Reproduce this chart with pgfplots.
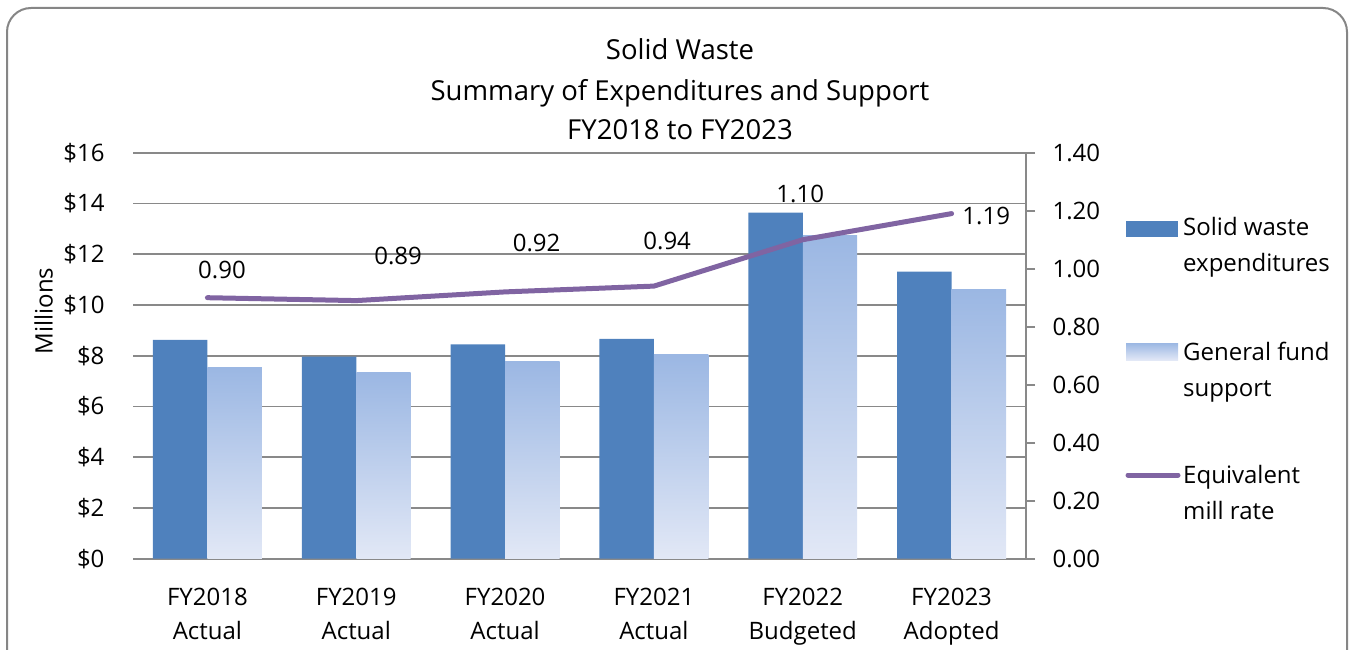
\documentclass[border=0pt]{standalone}
\usepackage{pgfplots}
\pgfplotsset{compat=1.18}
\usepackage{fontspec}
\setmainfont{Open Sans}
\definecolor{expblue}{RGB}{79,129,189}
\definecolor{gentop}{RGB}{155,183,227}
\definecolor{genbot}{RGB}{226,232,246}
\definecolor{millpurple}{RGB}{128,100,162}
\definecolor{gridgray}{RGB}{137,137,137}
\definecolor{bordergray}{RGB}{134,134,134}
\newcommand{\lbl}{\fontsize{24}{34}\selectfont}
\newcommand{\ttl}{\fontsize{27.5}{40}\selectfont}
\begin{document}
\begin{tikzpicture}
\useasboundingbox (0pt,0pt) rectangle (1351pt,649pt);
\draw[bordergray, line width=2pt, rounded corners=24pt] (7pt,-40pt) rectangle (1347pt,641pt);
\pgfplotsset{
  genbar/.style={ybar, bar shift=0.183, draw=none, top color=gentop, bottom color=genbot, forget plot},
}
\begin{axis}[
  at={(133pt,90.3pt)}, anchor=south west, scale only axis, width=893pt, height=406pt,
  xmin=-0.5, xmax=5.5, ymin=0, ymax=16,
  ybar, bar width=0.366,
  ytick={0,2,4,6,8,10,12,14,16},
  yticklabels={\$0,\$2,\$4,\$6,\$8,\$10,\$12,\$14,\$16},
  xtick={0,1,2,3,4,5},
  xticklabels={{FY2018\\Actual},{FY2019\\Actual},{FY2020\\Actual},{FY2021\\Actual},{FY2022\\Budgeted},{FY2023\\Adopted}},
  tick label style={font=\lbl},
  xticklabel style={align=center, yshift=-25.6pt},
  yticklabel style={xshift=-25pt},
  ymajorgrids, grid style={gridgray, line width=1.6pt},
  axis x line*=bottom, axis y line*=left,
  x axis line style={gridgray, line width=2.2pt, -},
  y axis line style={draw=none},
  major tick length=0pt,
  clip=false,
]
\addplot[ybar, bar shift=-0.183, fill=expblue, draw=none] coordinates {(0,8.62) (1,7.96) (2,8.45) (3,8.66) (4,13.64) (5,11.31)};
\addplot[genbar] coordinates {(0,7.55)};
\addplot[genbar] coordinates {(1,7.33)};
\addplot[genbar] coordinates {(2,7.79)};
\addplot[genbar] coordinates {(3,8.03)};
\addplot[genbar] coordinates {(4,12.72)};
\addplot[genbar] coordinates {(5,10.59)};
\end{axis}
\begin{axis}[
  at={(133pt,90.3pt)}, anchor=south west, scale only axis, width=893pt, height=406pt,
  xmin=-0.5, xmax=5.5, ymin=0, ymax=1.4,
  axis x line=none, axis y line*=right,
  y axis line style={gridgray, line width=1.6pt, -},
  ytick={0,0.2,0.4,0.6,0.8,1.0,1.2,1.4},
  yticklabel style={font=\lbl, xshift=14pt, /pgf/number format/.cd, fixed, fixed zerofill, precision=2, assume math mode=true},
  tick align=outside, major tick length=9pt,
  ytick style={gridgray, line width=1.6pt},
  clip=false,
]
\addplot[millpurple, line width=5pt, line cap=round, line join=round] coordinates {(0,0.90) (1,0.89) (2,0.92) (3,0.94) (4,1.10) (5,1.19)};
\node[font=\lbl] at (axis cs:0.098,0.9955) {0.90};
\node[font=\lbl] at (axis cs:1.281,1.0438) {0.89};
\node[font=\lbl] at (axis cs:2.212,1.0886) {0.92};
\node[font=\lbl] at (axis cs:3.089,1.0955) {0.94};
\node[font=\lbl] at (axis cs:3.983,1.2576) {1.10};
\node[font=\lbl] at (axis cs:5.233,1.1817) {1.19};
\end{axis}
% title
\node[font=\ttl, anchor=base] at (680pt,589.7pt) {Solid Waste};
\node[font=\ttl, anchor=base] at (680pt,548.5pt) {Summary of Expenditures and Support};
\node[font=\ttl, anchor=base] at (680pt,509.5pt) {FY2018 to FY2023};
% y label
\node[font=\lbl, rotate=90, anchor=base] at (52.7pt,338pt) {Millions};
% legend
\fill[expblue] (1126pt,412pt) rectangle (1178pt,428pt);
\shade[top color=gentop, bottom color=genbot] (1126pt,289pt) rectangle (1178pt,306pt);
\draw[millpurple, line width=5pt, line cap=round] (1128pt,174pt) -- (1178pt,174pt);
\node[font=\lbl, anchor=base west, inner sep=0pt] at (1183pt,413.5pt) {Solid waste};
\node[font=\lbl, anchor=base west, inner sep=0pt] at (1183pt,377.5pt) {expenditures};
\node[font=\lbl, anchor=base west, inner sep=0pt] at (1183pt,288.6pt) {General fund};
\node[font=\lbl, anchor=base west, inner sep=0pt] at (1183pt,253pt) {support};
\node[font=\lbl, anchor=base west, inner sep=0pt] at (1183pt,165.2pt) {Equivalent};
\node[font=\lbl, anchor=base west, inner sep=0pt] at (1183pt,129.5pt) {mill rate};
\end{tikzpicture}
\end{document}
